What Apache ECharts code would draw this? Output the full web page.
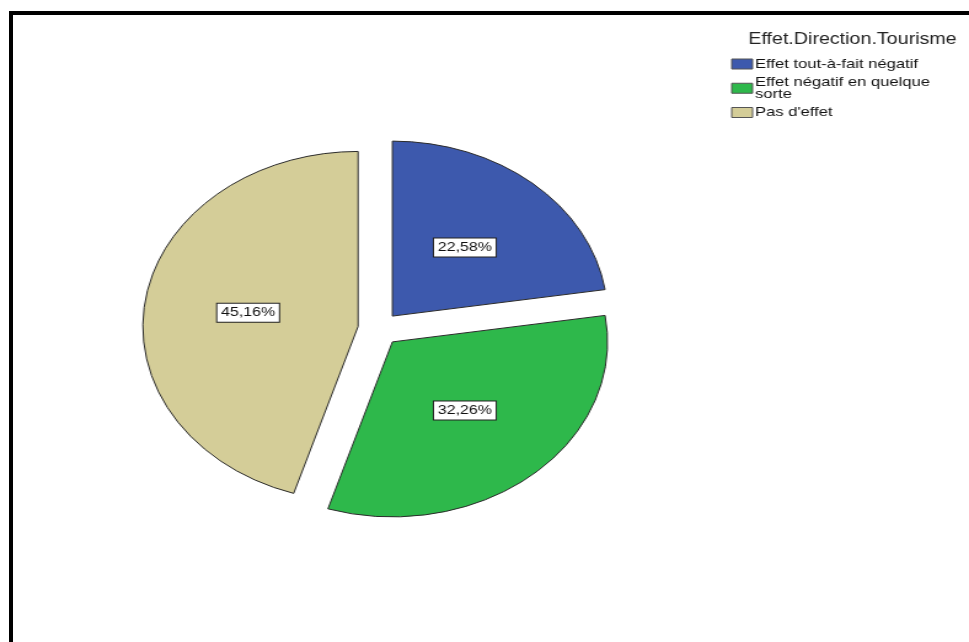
<!DOCTYPE html>
<html>
<head>
<meta charset="utf-8">
<script src="https://cdn.jsdelivr.net/npm/echarts@6/dist/echarts.min.js"></script>
<style>
  html, body { margin: 0; padding: 0; background: #fff; overflow: hidden; }
  #frame { position: absolute; left: 9px; top: 11px; width: 980px; height: 660px;
           border-left: 4px solid #000; border-top: 4px solid #000; box-sizing: border-box; }
  #chart { position: absolute; left: 0; top: 0; width: 788px; height: 642px;
           transform-origin: 0 0; transform: scaleX(1.2297); }
</style>
</head>
<body>
<div id="frame"></div>
<div id="chart"></div>
<script>
const legendTitle = 'Effet.Direction.Tourisme';
const categories = ['Effet tout-à-fait négatif', 'Effet négatif en quelque sorte', "Pas d'effet"];
const percents = [22.58, 32.26, 45.16];
const colors = ['#3d59ad', '#2eb84b', '#d4cd98'];

// wrap legend names at word boundaries (max ~25 chars per line)
function wrap(name, max) {
  const words = name.split(' ');
  const lines = [];
  let cur = '';
  words.forEach(w => {
    if (cur && (cur + ' ' + w).length > max) { lines.push(cur); cur = w; }
    else { cur = cur ? cur + ' ' + w : w; }
  });
  if (cur) lines.push(cur);
  return lines.join('\n');
}

const chart = echarts.init(document.getElementById('chart'), null, { renderer: 'canvas' });
const font = '"Liberation Sans", Arial, sans-serif';
chart.setOption({
  animation: false,
  backgroundColor: 'transparent',
  title: {
    text: legendTitle,
    right: 5,
    top: 27,
    textStyle: { fontFamily: font, fontSize: 16, fontWeight: 'normal', color: '#222' }
  },
  legend: {
    orient: 'vertical',
    left: 589.5,
    top: 52,
    itemWidth: 17,
    itemHeight: 10,
    itemGap: 4,
    icon: 'rect',
    selectedMode: false,
    itemStyle: { borderColor: '#555', borderWidth: 1 },
    formatter: name => wrap(name, 25),
    textStyle: { fontFamily: font, fontSize: 13.5, color: '#111', lineHeight: 12.5, padding: [0, 0, 0, -3] },
    data: categories
  },
  series: [{
    type: 'pie',
    center: [308, 329],
    radius: 175,
    startAngle: 90,
    clockwise: true,
    selectedMode: 'multiple',
    selectedOffset: 17,
    avoidLabelOverlap: false,
    emphasis: { disabled: true },
    itemStyle: { borderColor: '#2a2a2a', borderWidth: 1 },
    label: {
      show: true,
      position: 'inside',
      formatter: p => p.value.toFixed(2).replace('.', ',') + '%',
      fontFamily: font,
      fontSize: 13,
      color: '#111',
      backgroundColor: '#fff',
      borderColor: '#222',
      borderWidth: 1,
      padding: [3, 3, 2, 3]
    },
    labelLine: { show: false },
    data: categories.map((c, i) => ({ name: c, value: percents[i], selected: true, itemStyle: { color: colors[i] } }))
  }]
});
</script>
</body>
</html>
